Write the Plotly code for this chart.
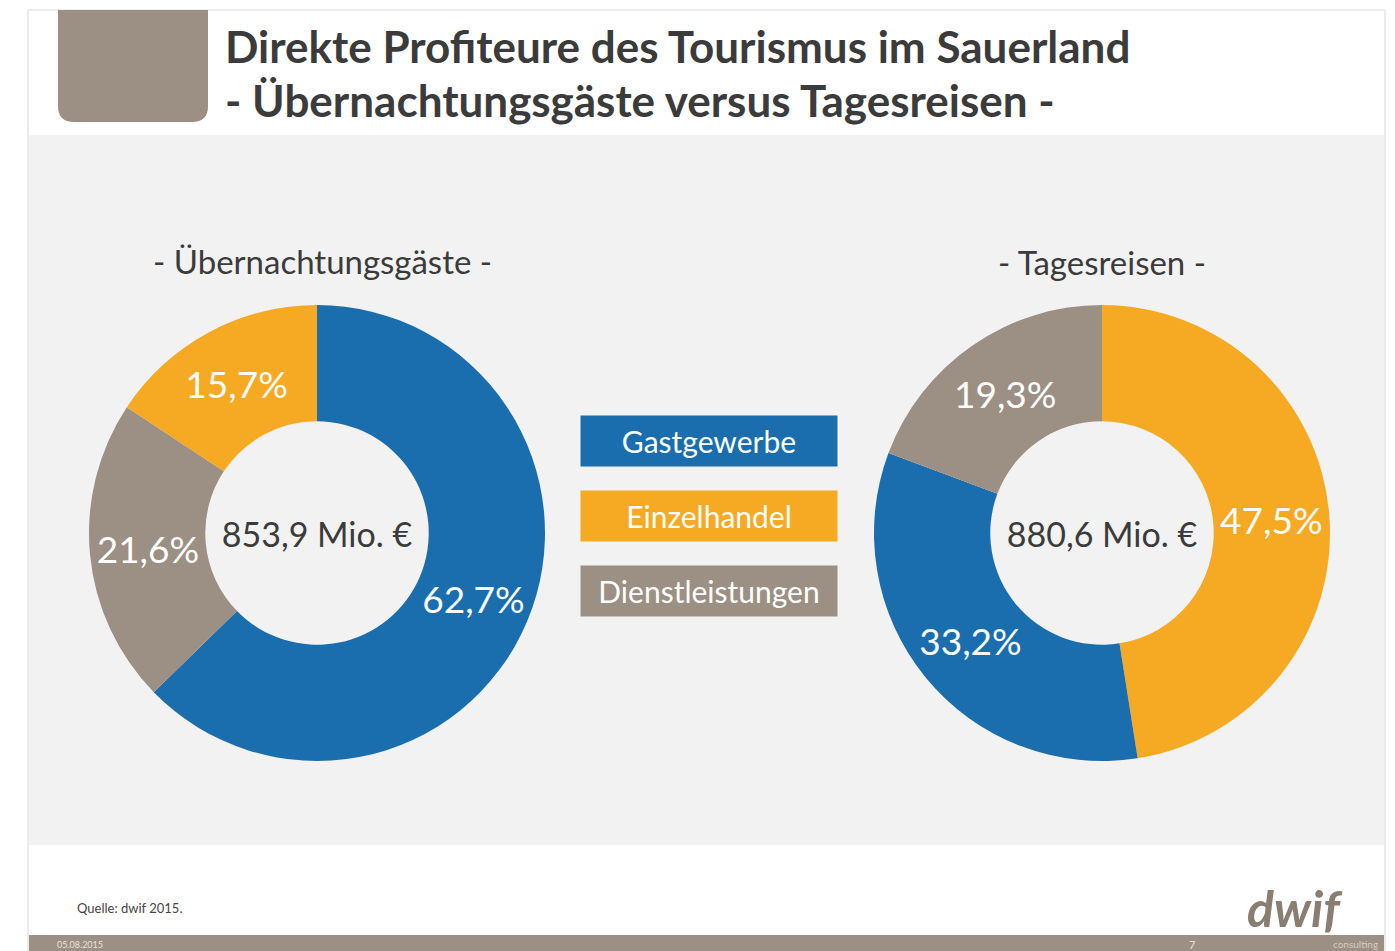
import plotly.graph_objects as go

W, H = 1395, 951
OFF = 8  # the page body has an 8px margin
FW, FH = W - OFF, H - OFF

# data
kategorien = ["Gastgewerbe", "Einzelhandel", "Dienstleistungen"]
farben = {"Gastgewerbe": "#1a6eae", "Einzelhandel": "#f6a922", "Dienstleistungen": "#9c8f83"}

links_titel = "- Übernachtungsgäste -"
links_labels = ["Gastgewerbe", "Dienstleistungen", "Einzelhandel"]
links_werte = [62.7, 21.6, 15.7]
links_summe = "853,9 Mio. €"

rechts_titel = "- Tagesreisen -"
rechts_labels = ["Einzelhandel", "Gastgewerbe", "Dienstleistungen"]
rechts_werte = [47.5, 33.2, 19.3]
rechts_summe = "880,6 Mio. €"

FONT = "Lato"
BRAUN = "#9c8f83"
TEXT = "#3b3b3b"
PCT = 37


def px_x(x):
    return (x - OFF) / FW


def px_y(y):
    return 1 - (y - OFF) / FH


def fmt(v):
    return ("%.1f%%" % v).replace(".", ",")


def donut(labels, werte, summe, cx, cy, r):
    return go.Pie(
        labels=labels,
        values=werte,
        text=[fmt(v) for v in werte],
        textinfo="text",
        textposition="inside",
        insidetextorientation="horizontal",
        textfont=dict(family=FONT, size=PCT, color="white"),
        marker=dict(colors=[farben[l] for l in labels], line=dict(width=0)),
        hole=0.49,
        sort=False,
        direction="clockwise",
        rotation=0,
        showlegend=False,
        hoverinfo="label+percent",
        title=dict(text=summe, position="middle center",
                   font=dict(family=FONT, size=34, color=TEXT)),
        domain=dict(x=[px_x(cx - r), px_x(cx + r)], y=[px_y(cy + r), px_y(cy - r)]),
    )


fig = go.Figure()
fig.add_trace(donut(links_labels, links_werte, links_summe, 317, 533, 228))
fig.add_trace(donut(rechts_labels, rechts_werte, rechts_summe, 1102, 533, 228))

shapes = []
# slide frame
shapes.append(dict(type="rect", x0=px_x(28), x1=px_x(1385), y0=px_y(953), y1=px_y(10),
                   line=dict(color="#d9d9d9", width=1), fillcolor="white", layer="below"))
# grey panel
shapes.append(dict(type="rect", x0=px_x(29), x1=px_x(1384), y0=px_y(845), y1=px_y(135),
                   line=dict(width=0), fillcolor="#f2f2f2", layer="below"))
# brown bar at bottom
shapes.append(dict(type="rect", x0=px_x(29), x1=px_x(1384), y0=px_y(953), y1=px_y(935),
                   line=dict(width=0), fillcolor=BRAUN, layer="below"))
# brown header square with rounded bottom corners
x0, x1, y0, y1, rr = 58, 208, 10, 122, 16
pfad = "M %f %f L %f %f L %f %f Q %f %f %f %f L %f %f Q %f %f %f %f Z" % (
    px_x(x0), px_y(y0), px_x(x1), px_y(y0),
    px_x(x1), px_y(y1 - rr), px_x(x1), px_y(y1), px_x(x1 - rr), px_y(y1),
    px_x(x0 + rr), px_y(y1), px_x(x0), px_y(y1), px_x(x0), px_y(y1 - rr))
shapes.append(dict(type="path", path=pfad, fillcolor=BRAUN, line=dict(width=0), layer="below"))

annotations = []
annotations.append(dict(x=px_x(223), y=px_y(46), xanchor="left", yanchor="middle",
                        text="<b>Direkte Profiteure des Tourismus im Sauerland</b>",
                        font=dict(family=FONT, size=44, color=TEXT), showarrow=False))
annotations.append(dict(x=px_x(223), y=px_y(100), xanchor="left", yanchor="middle",
                        text="<b>- Übernachtungsgäste versus Tagesreisen -</b>",
                        font=dict(family=FONT, size=44, color=TEXT), showarrow=False))
annotations.append(dict(x=px_x(322), y=px_y(261), xanchor="center", yanchor="middle",
                        text=links_titel, showarrow=False,
                        font=dict(family=FONT, size=33, color=TEXT)))
annotations.append(dict(x=px_x(1102), y=px_y(262), xanchor="center", yanchor="middle",
                        text=rechts_titel, showarrow=False,
                        font=dict(family=FONT, size=33, color=TEXT)))

# legend boxes
for i, k in enumerate(kategorien):
    yc = 441 + i * 75
    annotations.append(dict(x=px_x(709), y=px_y(yc), xanchor="center", yanchor="middle",
                            text=k, showarrow=False,
                            width=250, height=44, bgcolor=farben[k], borderpad=3,
                            font=dict(family=FONT, size=30, color="white")))

annotations.append(dict(x=px_x(75), y=px_y(908), xanchor="left", yanchor="middle",
                        text="Quelle: dwif 2015.",
                        showarrow=False, font=dict(family=FONT, size=13, color="#444444")))
annotations.append(dict(x=px_x(1345), y=px_y(908), xanchor="right", yanchor="middle",
                        text="<b><i>dwif</i></b>",
                        showarrow=False, font=dict(family=FONT, size=50, color="#8a7d72")))
annotations.append(dict(x=px_x(1380), y=px_y(944), xanchor="right", yanchor="middle",
                        text="consulting",
                        showarrow=False, font=dict(family=FONT, size=10, color="#d6cec6")))
annotations.append(dict(x=px_x(55), y=px_y(944), xanchor="left", yanchor="middle",
                        text="05.08.2015",
                        showarrow=False, font=dict(family=FONT, size=9, color="#e8e2dc")))
annotations.append(dict(x=px_x(1192), y=px_y(944), xanchor="center", yanchor="middle",
                        text="7",
                        showarrow=False, font=dict(family=FONT, size=11, color="#e8e2dc")))

fig.update_layout(
    width=FW, height=FH,
    margin=dict(l=0, r=0, t=0, b=0),
    paper_bgcolor="white",
    plot_bgcolor="white",
    shapes=shapes,
    annotations=annotations,
    uniformtext=dict(minsize=PCT, mode="show"),
)

fig.write_html("out.html")
